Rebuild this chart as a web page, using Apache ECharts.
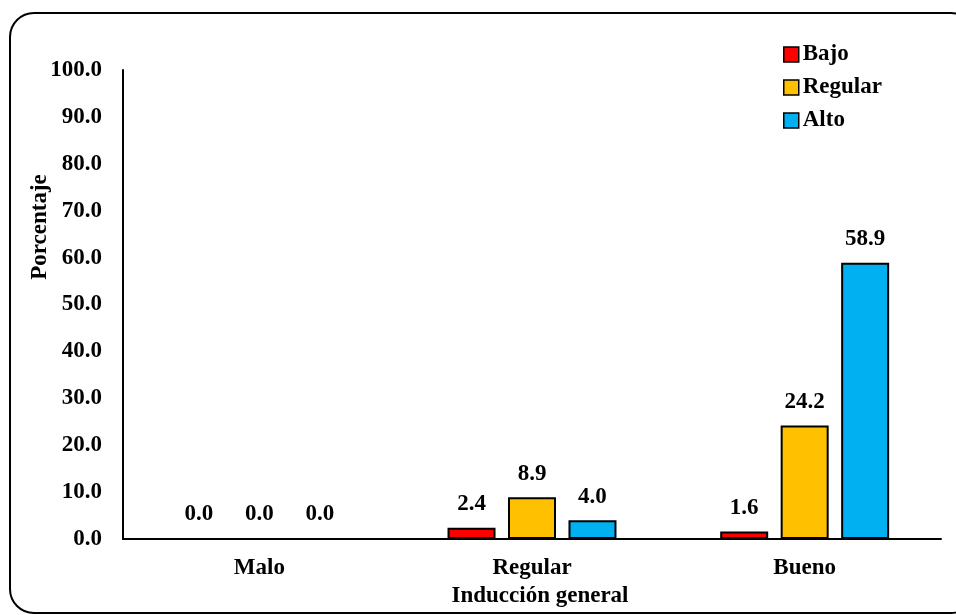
<!DOCTYPE html>
<html>
<head>
<meta charset="utf-8">
<script src="https://cdn.jsdelivr.net/npm/echarts@6/dist/echarts.min.js"></script>
<style>
  html, body { margin: 0; padding: 0; background: #fff; }
  #chart { width: 956px; height: 615px; }
</style>
</head>
<body>
<div id="chart"></div>
<script>
// Categories of "Inducción general" and the share (%) in each level
const categories = ['Malo', 'Regular', 'Bueno'];
const seriesNames = ['Bajo', 'Regular', 'Alto'];
const bajo = [0.0, 2.4, 1.6];
const regular = [0.0, 8.9, 24.2];
const alto = [0.0, 4.0, 58.9];
const yTicks = [0, 10, 20, 30, 40, 50, 60, 70, 80, 90, 100];

const colors = ['#FF0000', '#FFC000', '#00B0F0'];
const FONT = "'Liberation Serif', 'Times New Roman', serif";
const FS = 23;

const chart = echarts.init(document.getElementById('chart'), null, { renderer: 'canvas' });

function barSeries(name, data, color) {
  return {
    name: name,
    type: 'bar',
    data: data,
    barWidth: 48,
    barGap: '26%',
    itemStyle: { color: color, borderColor: '#000', borderWidth: 2 },
    label: {
      show: true,
      position: 'top',
      distance: 12,
      formatter: p => p.value.toFixed(1),
      color: '#000',
      fontFamily: FONT,
      fontWeight: 'bold',
      fontSize: FS
    }
  };
}

chart.setOption({
  animation: false,
  backgroundColor: '#fff',
  textStyle: { fontFamily: FONT },
  graphic: [
    {
      type: 'rect',
      shape: { x: 10, y: 13, width: 965, height: 600, r: 24 },
      style: { fill: 'none', stroke: '#000', lineWidth: 2 },
      silent: true,
      z: -1
    },
    {
      type: 'text',
      x: 40,
      y: 227,
      rotation: Math.PI / 2,
      style: {
        text: 'Porcentaje',
        fontFamily: FONT,
        fontWeight: 'bold',
        fontSize: FS,
        fill: '#000',
        align: 'center',
        verticalAlign: 'middle'
      }
    }
  ],
  legend: {
    orient: 'vertical',
    left: 783,
    top: 43,
    padding: 0,
    itemWidth: 15,
    itemHeight: 15,
    itemGap: 10,
    icon: 'rect',
    itemStyle: { borderColor: '#000', borderWidth: 1.5 },
    textStyle: {
      fontFamily: FONT,
      fontWeight: 'bold',
      fontSize: FS,
      color: '#000',
      padding: [0, 0, 0, -1]
    },
    data: seriesNames
  },
  grid: { left: 123, right: 15, top: 70, bottom: 76, containLabel: false },
  xAxis: {
    type: 'category',
    data: categories,
    name: 'Inducción general',
    nameLocation: 'middle',
    nameGap: 42,
    nameTextStyle: {
      fontFamily: FONT,
      fontWeight: 'bold',
      fontSize: FS,
      color: '#000',
      padding: [0, 0, 0, 16]
    },
    axisLine: { lineStyle: { color: '#000', width: 2 } },
    axisTick: { show: false },
    axisLabel: {
      margin: 18,
      color: '#000',
      fontFamily: FONT,
      fontWeight: 'bold',
      fontSize: FS
    }
  },
  yAxis: {
    type: 'value',
    min: yTicks[0],
    max: yTicks[yTicks.length - 1],
    interval: yTicks[1] - yTicks[0],
    axisLine: { show: true, lineStyle: { color: '#000', width: 2 } },
    axisTick: { show: false },
    splitLine: { show: false },
    axisLabel: {
      margin: 21,
      color: '#000',
      fontFamily: FONT,
      fontWeight: 'bold',
      fontSize: FS,
      formatter: v => v.toFixed(1)
    }
  },
  series: [
    barSeries(seriesNames[0], bajo, colors[0]),
    barSeries(seriesNames[1], regular, colors[1]),
    barSeries(seriesNames[2], alto, colors[2])
  ]
});
</script>
</body>
</html>
